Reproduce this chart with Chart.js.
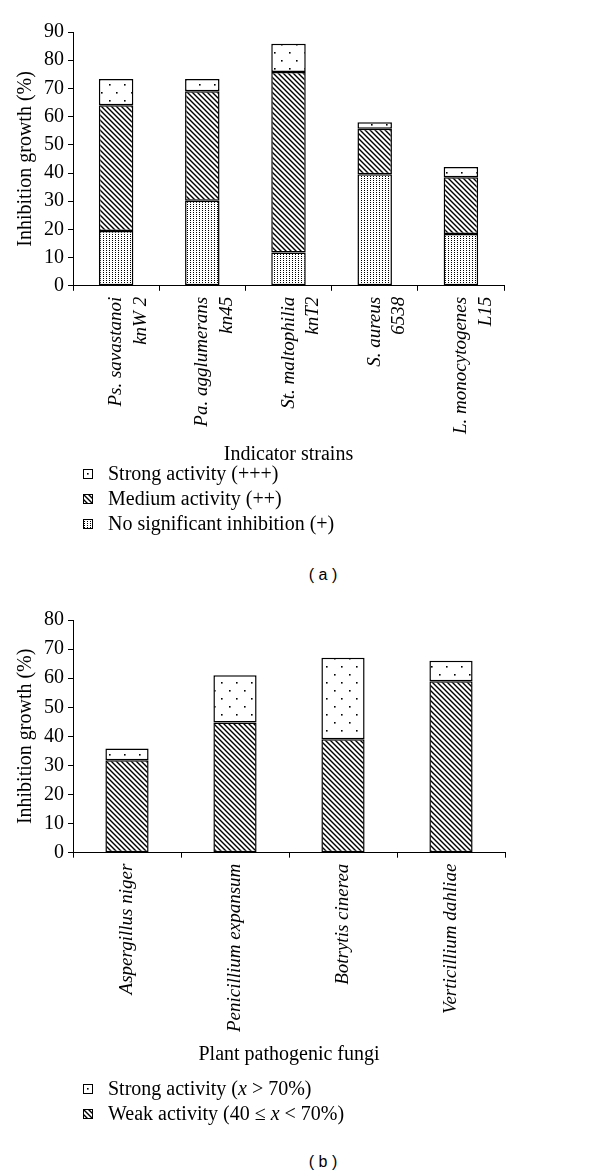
<!DOCTYPE html>
<html>
<head>
<meta charset="utf-8">
<script src="https://cdn.jsdelivr.net/npm/chart.js@4.4.1/dist/chart.umd.min.js"></script>
<style>
  body { margin: 0; background: #fff; width: 600px; height: 1176px; position: relative; font-family: "Liberation Serif", serif; }
  .box { position: absolute; left: 0; width: 600px; }
  .legend { position: absolute; left: 83px; font-size: 20px; color: #000; }
  .legend div { height: 25px; display: flex; align-items: center; }
  .legend canvas { margin-right: 15px; }
  .caption { position: absolute; left: 273px; width: 100px; text-align: center; font-family: "Liberation Sans", sans-serif; font-size: 16px; line-height: 20px; }
</style>
</head>
<body>
<div class="box" style="top:0;height:469px"><canvas id="chartA"></canvas></div>
<div class="legend" id="legendA" style="top:461px"></div>
<div class="caption" style="top:565px">( a )</div>

<div class="box" style="top:590px;height:479px"><canvas id="chartB"></canvas></div>
<div class="legend" id="legendB" style="top:1076px"></div>
<div class="caption" style="top:1152px">( b )</div>

<script>
// (a) indicator strains
const strainLabels = [
  ['Ps. savastanoi', 'knW 2'],
  ['Pa. agglumerans', 'kn45'],
  ['St. maltophilia', 'knT2'],
  ['S. aureus', '6538'],
  ['L. monocytogenes', 'L15']
];
const strainNoSig = [19.4, 30.2, 11.8, 39.6, 18.4];
const strainMedium = [44.6, 38.8, 64.0, 16.1, 20.1];
const strainStrong = [9.3, 4.3, 10.0, 2.3, 3.6];

// (b) plant pathogenic fungi
const fungiLabels = ['Aspergillus niger', 'Penicillium expansum', 'Botrytis cinerea', 'Verticillium dahliae'];
const fungiWeak = [31.8, 44.8, 39.0, 58.9];
const fungiStrong = [4.0, 16.2, 28.0, 7.1];

function makeTile(kind) {
  const c = document.createElement('canvas');
  const x = c.getContext('2d');
  if (kind === 'stipple') {
    c.width = 3; c.height = 2;
    x.fillStyle = '#fff'; x.fillRect(0, 0, 3, 2);
    x.fillStyle = '#000'; x.fillRect(1, 0, 1, 1);
  } else if (kind === 'hatch') {
    c.width = 5; c.height = 5;
    x.fillStyle = '#fff'; x.fillRect(0, 0, 5, 5);
    x.strokeStyle = '#000'; x.lineWidth = 1.4;
    x.beginPath();
    x.moveTo(-1, -1); x.lineTo(6, 6);
    x.moveTo(-1, 4); x.lineTo(1, 6);
    x.moveTo(4, -1); x.lineTo(6, 1);
    x.stroke();
  } else {
    c.width = 15; c.height = 16;
    x.fillStyle = '#fff'; x.fillRect(0, 0, 15, 16);
    x.fillStyle = '#000';
    x.fillRect(4, 4, 1.6, 1.6);
    x.fillRect(11, 12, 1.6, 1.6);
  }
  return c;
}

function pattern(kind) {
  const tmp = document.createElement('canvas').getContext('2d');
  return tmp.createPattern(makeTile(kind), 'repeat');
}

const serif = '"Liberation Serif", "Times New Roman", serif';

function makeChart(id, labels, datasets, yMax, xTitle, pad, titleGap) {
  return new Chart(document.getElementById(id), {
    type: 'bar',
    data: { labels: labels, datasets: datasets },
    options: {
      responsive: true,
      maintainAspectRatio: false,
      animation: false,
      layout: { padding: pad },
      plugins: { legend: { display: false }, tooltip: { enabled: false } },
      scales: {
        x: {
          stacked: true,
          border: { color: '#000', width: 1 },
          grid: { drawOnChartArea: false, color: '#000', tickLength: 5 },
          ticks: {
            color: '#000', maxRotation: 90, minRotation: 90, padding: 6,
            font: { family: serif, size: 19, style: 'italic', lineHeight: 1.3 }
          },
          title: { display: true, text: xTitle, color: '#000', font: { family: serif, size: 20 }, padding: { top: titleGap, bottom: 0 } }
        },
        y: {
          stacked: true,
          min: 0, max: yMax,
          border: { color: '#000', width: 1 },
          grid: { drawOnChartArea: false, color: '#000', tickLength: 5 },
          ticks: { stepSize: 10, color: '#000', padding: 4, font: { family: serif, size: 20 } },
          title: { display: true, text: 'Inhibition growth (%)', color: '#000', font: { family: serif, size: 20 }, padding: { top: 0, bottom: 2 } }
        }
      }
    }
  });
}

function barSet(label, data, kind) {
  return {
    label: label, data: data, patternKind: kind,
    backgroundColor: pattern(kind),
    borderColor: '#000', borderWidth: 1.5, borderSkipped: false,
    categoryPercentage: 1, barPercentage: 0.4
  };
}

const chartA = makeChart('chartA', strainLabels, [
  barSet('No significant inhibition (+)', strainNoSig, 'stipple'),
  barSet('Medium activity (++)', strainMedium, 'hatch'),
  barSet('Strong activity (+++)', strainStrong, 'sparse')
], 90, 'Indicator strains', { top: 32, right: 96, left: 14, bottom: 2 }, 3);

const chartB = makeChart('chartB', fungiLabels, [
  barSet('Weak activity (40 \u2264 x < 70%)', fungiWeak, 'hatch'),
  barSet('Strong activity (x > 70%)', fungiStrong, 'sparse')
], 80, 'Plant pathogenic fungi', { top: 30, right: 95, left: 14, bottom: 2 }, 5);

function htmlLegend(chart, id) {
  const el = document.getElementById(id);
  chart.data.datasets.slice().reverse().forEach(ds => {
    const row = document.createElement('div');
    const sw = document.createElement('canvas');
    sw.width = 10; sw.height = 10;
    const g = sw.getContext('2d');
    g.fillStyle = g.createPattern(makeTile(ds.patternKind), 'repeat');
    g.fillRect(0, 0, 10, 10);
    g.strokeStyle = '#000'; g.lineWidth = 1;
    g.strokeRect(0.5, 0.5, 9, 9);
    row.appendChild(sw);
    const t = document.createElement('span');
    t.innerHTML = ds.label.replace(/ x /g, ' <i>x</i> ').replace(/\(x /, '(<i>x</i> ');
    row.appendChild(t);
    el.appendChild(row);
  });
}
htmlLegend(chartA, 'legendA');
htmlLegend(chartB, 'legendB');
</script>
</body>
</html>
